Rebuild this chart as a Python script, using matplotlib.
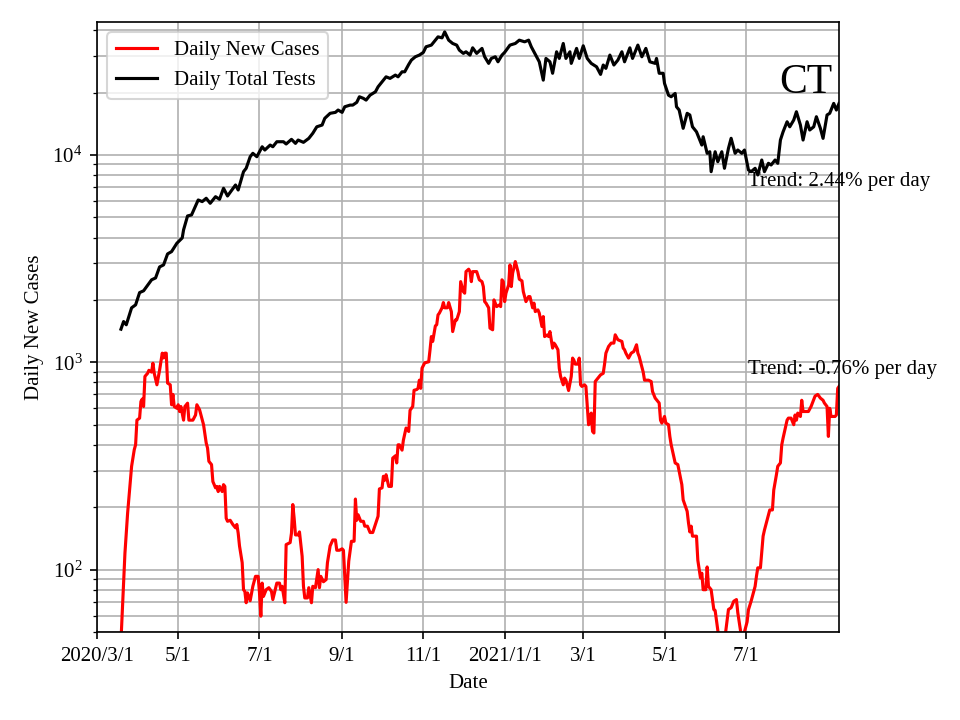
import matplotlib
matplotlib.use('Agg')
import matplotlib.pyplot as plt
import numpy as np

plt.rcParams['font.family'] = 'serif'
plt.rcParams['font.serif'] = ['Liberation Serif', 'DejaVu Serif']
plt.rcParams['mathtext.fontset'] = 'stix'
plt.rcParams['font.size'] = 10

start = np.datetime64('2020-03-01')

# Daily total tests (days since 2020-03-01, value)
test_days = [18, 20, 22, 26, 29, 32, 35, 41, 44, 47, 50, 53, 56, 60, 64, 65, 68, 71, 76, 79,
             82, 85, 89, 92, 95, 98, 104, 106, 110, 112, 115, 117, 120, 124, 126, 130, 132, 135, 140, 142,
             146, 149, 151, 155, 159, 162, 165, 169, 171, 175, 179, 181, 184, 186, 190, 192, 195, 197, 200, 202,
             205, 209, 211, 214, 217, 220, 224, 226, 229, 231, 234, 236, 239, 242, 245, 247, 251, 254, 256, 259,
             261, 264, 267, 270, 272, 275, 277, 280, 282, 285, 289, 291, 294, 296, 299, 301, 304, 306, 310, 314,
             317, 321, 324, 326, 330, 332, 335, 337, 340, 342, 345, 347, 350, 352, 355, 356, 360, 362, 365, 368,
             371, 375, 378, 380, 382, 385, 388, 391, 394, 396, 400, 402, 406, 409, 412, 415, 419, 420, 422, 425,
             426, 429, 431, 434, 435, 437, 440, 443, 445, 447, 450, 454, 455, 458, 460, 461, 464, 466, 469, 471,
             474, 476, 479, 481, 484, 486, 489, 491, 494, 496, 499, 501, 504, 506, 509, 511, 513, 515, 518, 520,
             523, 525, 528, 530, 533, 535, 538, 540, 543, 545, 548, 550, 553, 555, 557]
test_vals = [1445, 1573, 1517, 1832, 1893, 2169, 2213, 2500, 2553, 2885, 2950, 3333, 3420, 3754, 3981, 4352, 5082, 5140, 6070, 5960,
             6185, 5850, 6295, 6115, 6914, 6343, 7168, 6780, 8309, 8628, 9813, 10190, 9813, 10960, 10570, 11170, 10960, 11590, 11590, 11300,
             11900, 11380, 11810, 11510, 12030, 12730, 13680, 13950, 15030, 15890, 16060, 16480, 16060, 17090, 17410, 17410, 17950, 19100, 18760, 18400,
             19450, 20180, 21330, 22540, 23830, 23420, 24300, 23830, 25200, 25200, 27350, 28700, 29780, 30340, 31270, 33270, 33900, 35810, 37150, 36740,
             39260, 35810, 34520, 33900, 32060, 30920, 31470, 30340, 32900, 30920, 32680, 29780, 27670, 29240, 29780, 28160, 30340, 31270, 33900, 34520,
             35810, 35160, 35810, 33270, 29780, 28160, 22970, 29240, 28160, 24790, 31470, 29240, 34520, 29240, 31470, 27670, 32680, 29240, 33640, 29240,
             27670, 26640, 24490, 27170, 26180, 30340, 27170, 28700, 31470, 28160, 32880, 29240, 33900, 29780, 32680, 28160, 27670, 29240, 24790, 24790,
             22160, 19430, 19100, 19820, 17090, 16480, 13450, 15890, 15600, 13680, 12940, 11170, 12250, 10190, 10370, 8309, 10370, 9283, 10370, 8628,
             10770, 12040, 10190, 10570, 10190, 10570, 8470, 8309, 8628, 8015, 9460, 8309, 9120, 8950, 9460, 9120, 11810, 12940, 14470, 13680,
             14750, 16170, 13950, 11810, 14470, 13200, 13680, 15300, 13450, 12030, 15600, 15890, 17740, 16480, 17740]

# Daily new cases (days since 2020-03-01, value)
case_days = [18, 21, 23, 26, 28, 29, 30, 32, 33, 34, 35, 36, 38, 39, 41, 42, 43, 45, 47, 49,
             50, 51, 52, 53, 55, 56, 57, 58, 60, 61, 62, 63, 65, 66, 68, 69, 72, 74, 75, 77,
             80, 82, 83, 84, 86, 87, 89, 90, 91, 92, 94, 95, 96, 97, 98, 100, 102, 104, 105, 106,
             107, 109, 110, 111, 112, 113, 115, 117, 119, 121, 122, 123, 124, 125, 127, 129, 131, 132, 135, 137,
             138, 139, 141, 142, 144, 145, 146, 147, 148, 149, 151, 152, 154, 155, 156, 158, 159, 161, 162, 164,
             166, 167, 168, 170, 172, 173, 175, 177, 179, 180, 182, 184, 185, 187, 189, 191, 193, 194, 195, 196,
             198, 200, 201, 203, 205, 207, 209, 211, 212, 214, 215, 216, 217, 219, 221, 222, 224, 225, 226, 227,
             229, 230, 232, 234, 235, 237, 238, 240, 241, 242, 243, 244, 246, 249, 250, 251, 252, 254, 255, 256,
             257, 259, 260, 261, 263, 264, 266, 267, 269, 270, 272, 273, 275, 276, 277, 279, 280, 281, 282, 285,
             287, 289, 290, 291, 292, 294, 295, 297, 298, 299, 300, 302, 303, 304, 305, 306, 307, 309, 310, 311,
             312, 314, 316, 317, 319, 320, 322, 324, 325, 327, 328, 329, 331, 332, 334, 335, 336, 338, 339, 340,
             342, 343, 344, 346, 347, 348, 350, 351, 352, 354, 356, 357, 358, 359, 361, 362, 363, 364, 366, 367,
             369, 370, 371, 372, 373, 374, 376, 378, 380, 381, 382, 384, 386, 388, 389, 391, 394, 395, 396, 397,
             399, 401, 403, 405, 406, 407, 409, 410, 411, 414, 416, 417, 419, 421, 422, 423, 424, 426, 427, 429,
             430, 431, 434, 436, 439, 440, 443, 444, 445, 446, 447, 450, 451, 453, 454, 455, 457, 458, 459, 461,
             463, 464, 466, 467, 470, 474, 476, 478, 480, 481, 483, 484, 486, 488, 489, 491, 494, 495, 496, 498,
             500, 501, 503, 505, 507, 508, 510, 511, 513, 514, 515, 518, 519, 521, 523, 524, 525, 526, 528, 529,
             530, 532, 534, 536, 537, 539, 541, 543, 545, 546, 548, 549, 550, 551, 553, 554, 555, 556, 557]
case_vals = [45, 120, 187, 315, 379, 400, 526, 538, 647, 665, 612, 855, 885, 915, 897, 990, 885, 779, 915, 1107,
             1050, 1107, 1107, 794, 779, 624, 700, 612, 600, 624, 579, 612, 526, 612, 635, 526, 526, 557, 624, 591,
             500, 408, 386, 333, 321, 266, 248, 252, 238, 252, 238, 257, 252, 177, 171, 173, 165, 159, 165, 150,
             130, 108, 80, 78.5, 69.2, 77.2, 70.8, 83.1, 92.8, 92.8, 77.2, 59.6, 86.1, 74.3, 80, 81.8, 78.5, 71.7, 86.1, 86.1,
             80, 83.1, 69.2, 132, 134, 135, 150, 206, 177, 147, 147, 152, 116, 83.1, 73, 73, 81.8, 69.2, 83.1, 81.8,
             100, 81.8, 92.8, 87.4, 89.5, 108, 130, 139, 139, 124, 124, 126, 124, 69.5, 110, 137, 137, 219, 173, 184,
             171, 171, 162, 162, 151, 151, 165, 181, 245, 248, 282, 270, 287, 252, 252, 345, 354, 327, 400, 400,
             377, 421, 482, 464, 587, 612, 733, 739, 749, 820, 749, 937, 994, 1006, 1149, 1331, 1261, 1499, 1517, 1693,
             1727, 1832, 1942, 1832, 1832, 1942, 1757, 1407, 1600, 1600, 1757, 2450, 2194, 2155, 2739, 2813, 2739, 2450, 2739, 2739,
             2500, 2450, 2319, 1963, 1930, 1832, 1462, 1435, 2000, 1930, 1857, 1891, 1857, 2500, 2450, 1963, 2155, 2363, 2951, 2319,
             2690, 3062, 2739, 2518, 2470, 2194, 1963, 2075, 2075, 1832, 1930, 1757, 1790, 1727, 1488, 1662, 1331, 1355, 1331, 1407,
             1171, 1238, 1215, 1150, 937, 855, 779, 839, 820, 731, 855, 1048, 1023, 980, 980, 1048, 779, 765, 779, 765,
             500, 509, 569, 464, 456, 808, 839, 870, 885, 980, 1107, 1192, 1238, 1238, 1357, 1285, 1261, 1171, 1150, 1107,
             1048, 1107, 1128, 1215, 1107, 1066, 953, 897, 820, 820, 808, 723, 672, 647, 636, 526, 509, 548, 509, 500,
             439, 400, 327, 321, 257, 217, 191, 168, 152, 162, 145, 145, 111, 91.2, 96.1, 80, 80, 103, 83, 80,
             64.2, 63.5, 51, 45, 40, 64.2, 65.5, 70.4, 71.7, 62, 51, 47, 50, 56, 64, 70.4, 83, 92.8, 102, 102,
             145, 155, 173, 194, 194, 242, 287, 315, 327, 400, 431, 526, 538, 538, 500, 557, 526, 569, 548, 656,
             579, 579, 579, 612, 636, 687, 700, 672, 656, 636, 612, 439, 600, 548, 548, 548, 557, 749, 765]

tick_days = [0, 61, 122, 184, 245, 306, 365, 426, 487]
tick_labels = ['2020/3/1', '5/1', '7/1', '9/1', '11/1', '2021/1/1', '3/1', '5/1', '7/1']

state = 'CT'
trend_tests = 'Trend: 2.44% per day'
trend_cases = 'Trend: -0.76% per day'

def to_dates(days):
    return start + np.array(days).astype('timedelta64[D]')

fig, ax = plt.subplots(figsize=(6.4, 4.8), dpi=150)
fig.subplots_adjust(left=0.101, right=0.874, top=0.9694, bottom=0.1222)

ax.plot(to_dates(case_days), case_vals, color='red', label='Daily New Cases')
ax.plot(to_dates(test_days), test_vals, color='black', label='Daily Total Tests')
ax.set_yscale('log')
ax.set_ylim(50, 43800)
ax.set_xlim(start, start + np.timedelta64(557, 'D'))
ax.set_xticks(to_dates(tick_days))
ax.set_xticklabels(tick_labels)
ax.grid(True, which='major')
ax.grid(True, which='minor', axis='y')
ax.set_xlabel('Date')
ax.set_ylabel('Daily New Cases')
ax.legend(loc='upper left')

ax.text(0.991, 0.883, state, transform=ax.transAxes, fontsize=20, ha='right', va='baseline')
ax.text(start + np.timedelta64(489, 'D'), 7090, trend_tests, ha='left', va='baseline')
ax.text(start + np.timedelta64(489, 'D'), 880, trend_cases, ha='left', va='baseline')

plt.savefig('out.png', dpi=150)
